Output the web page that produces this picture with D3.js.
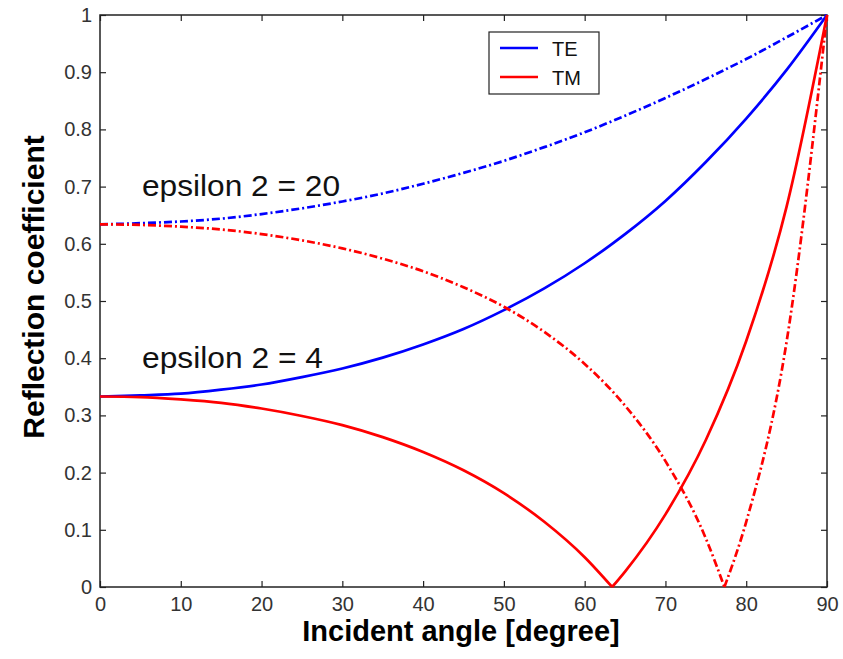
<!DOCTYPE html>
<html>
<head>
<meta charset="utf-8">
<script src="https://cdn.jsdelivr.net/npm/d3@7"></script>
<style>
  body { margin: 0; background: #fff; }
  svg { display: block; }
</style>
</head>
<body>
<svg width="843" height="659"></svg>
<script>
(function () {
    "use strict";

    // Incident angles in degrees (Brewster angles added where TM drops to 0)
    var anglesE4 = [0, 5, 10, 15, 20, 25, 30, 35, 40, 45, 50, 55, 60, 63.4, 65, 70, 75, 80, 85, 90];
    var anglesE20 = [0, 5, 10, 15, 20, 25, 30, 35, 40, 45, 50, 55, 60, 65, 70, 75, 77.3, 80, 85, 90];

    // Reflection coefficients
    var teE4 = [0.333, 0.335, 0.338, 0.345, 0.354, 0.367, 0.382, 0.401, 0.424, 0.451, 0.484, 0.522, 0.566, 0.600, 0.617, 0.675, 0.743, 0.819, 0.904, 1.0];
    var tmE4 = [0.333, 0.332, 0.328, 0.322, 0.312, 0.299, 0.283, 0.262, 0.236, 0.204, 0.164, 0.114, 0.052, 0.0, 0.027, 0.127, 0.257, 0.430, 0.665, 1.0];
    var teE20 = [0.634, 0.636, 0.639, 0.644, 0.652, 0.662, 0.674, 0.688, 0.705, 0.724, 0.745, 0.769, 0.795, 0.824, 0.855, 0.888, 0.904, 0.923, 0.961, 1.0];
    var tmE20 = [0.634, 0.633, 0.630, 0.625, 0.617, 0.606, 0.592, 0.574, 0.552, 0.524, 0.490, 0.446, 0.390, 0.317, 0.220, 0.085, 0.0, 0.114, 0.429, 1.0];

    var xTicks = [0, 10, 20, 30, 40, 50, 60, 70, 80, 90];
    var yTicks = [0, 0.1, 0.2, 0.3, 0.4, 0.5, 0.6, 0.7, 0.8, 0.9, 1];

    var font = '"Liberation Sans", Arial, sans-serif';
    var svg = d3.select('svg');
    var margin = { top: 15, right: 16, bottom: 72, left: 100 };
    var width = 843 - margin.left - margin.right;
    var height = 659 - margin.top - margin.bottom;
    var g = svg.append('g').attr('transform', 'translate(' + margin.left + ',' + margin.top + ')');

    var x = d3.scaleLinear().domain([0, 90]).range([0, width]);
    var y = d3.scaleLinear().domain([0, 1]).range([height, 0]);

    var fmt = function (d) { return d === 0 || d === 1 ? String(d) : d3.format('.1f')(d); };

    function styleAxis(sel) {
        sel.select('.domain').remove();
        sel.selectAll('.tick line').attr('stroke', '#222').attr('stroke-width', 1.2);
        sel.selectAll('.tick text')
            .attr('font-family', font).attr('font-size', 20).attr('fill', '#333');
    }

    // Inner ticks on all four sides, MATLAB style
    g.append('g').attr('transform', 'translate(0,' + height + ')')
        .call(d3.axisBottom(x).tickValues(xTicks).tickSize(-6).tickPadding(10))
        .call(styleAxis);
    g.append('g')
        .call(d3.axisTop(x).tickValues(xTicks).tickSize(-6).tickFormat(''))
        .call(styleAxis);
    g.append('g')
        .call(d3.axisLeft(y).tickValues(yTicks).tickSize(-6).tickPadding(8).tickFormat(fmt))
        .call(styleAxis);
    g.append('g').attr('transform', 'translate(' + width + ',0)')
        .call(d3.axisRight(y).tickValues(yTicks).tickSize(-6).tickFormat(''))
        .call(styleAxis);

    g.append('rect')
        .attr('width', width).attr('height', height)
        .attr('fill', 'none').attr('stroke', '#222').attr('stroke-width', 1.5);

    var series = [
        { angles: anglesE4, values: teE4, color: '#0000ff', dash: null },
        { angles: anglesE4, values: tmE4, color: '#ff0000', dash: null },
        { angles: anglesE20, values: teE20, color: '#0000ff', dash: '8,3,2,3' },
        { angles: anglesE20, values: tmE20, color: '#ff0000', dash: '8,3,2,3' }
    ];

    var line = d3.line()
        .curve(d3.curveMonotoneX)
        .x(function (d) { return x(d[0]); })
        .y(function (d) { return y(d[1]); });

    series.forEach(function (s) {
        var pts = d3.zip(s.angles, s.values);
        // split at the minimum so the V at the Brewster angle stays sharp
        var k = d3.minIndex(s.values);
        var parts = (k > 0 && k < pts.length - 1) ? [pts.slice(0, k + 1), pts.slice(k)] : [pts];
        parts.forEach(function (p) {
            g.append('path')
                .datum(p)
                .attr('fill', 'none')
                .attr('stroke', s.color)
                .attr('stroke-width', 2.7)
                .attr('stroke-dasharray', s.dash)
                .attr('d', line);
        });
    });

    // Annotations
    g.append('text').attr('x', 42).attr('y', 181)
        .attr('font-family', font).attr('font-size', 29).attr('fill', '#111')
        .attr('textLength', 198).attr('lengthAdjust', 'spacingAndGlyphs')
        .text('epsilon 2 = 20');
    g.append('text').attr('x', 42).attr('y', 353)
        .attr('font-family', font).attr('font-size', 29).attr('fill', '#111')
        .attr('textLength', 181).attr('lengthAdjust', 'spacingAndGlyphs')
        .text('epsilon 2 = 4');

    // Legend
    var legend = svg.append('g').attr('transform', 'translate(489,32)');
    legend.append('rect')
        .attr('width', 110).attr('height', 62)
        .attr('fill', '#fff').attr('stroke', '#222').attr('stroke-width', 1.2);
    [{ name: 'TE', color: '#0000ff' }, { name: 'TM', color: '#ff0000' }].forEach(function (d, i) {
        var yy = 16 + i * 29;
        legend.append('line')
            .attr('x1', 11).attr('x2', 49).attr('y1', yy).attr('y2', yy)
            .attr('stroke', d.color).attr('stroke-width', 2.7);
        legend.append('text')
            .attr('x', 63).attr('y', yy + 8)
            .attr('font-family', font).attr('font-size', 20).attr('fill', '#111')
            .text(d.name);
    });

    // Axis titles
    svg.append('text')
        .attr('x', 461).attr('y', 641)
        .attr('text-anchor', 'middle')
        .attr('font-family', font).attr('font-size', 29).attr('font-weight', 'bold')
        .text('Incident angle [degree]');
    svg.append('text')
        .attr('transform', 'translate(44,287) rotate(-90)')
        .attr('text-anchor', 'middle')
        .attr('font-family', font).attr('font-size', 30).attr('font-weight', 'bold')
        .text('Reflection coefficient');
})();
</script>
</body>
</html>
